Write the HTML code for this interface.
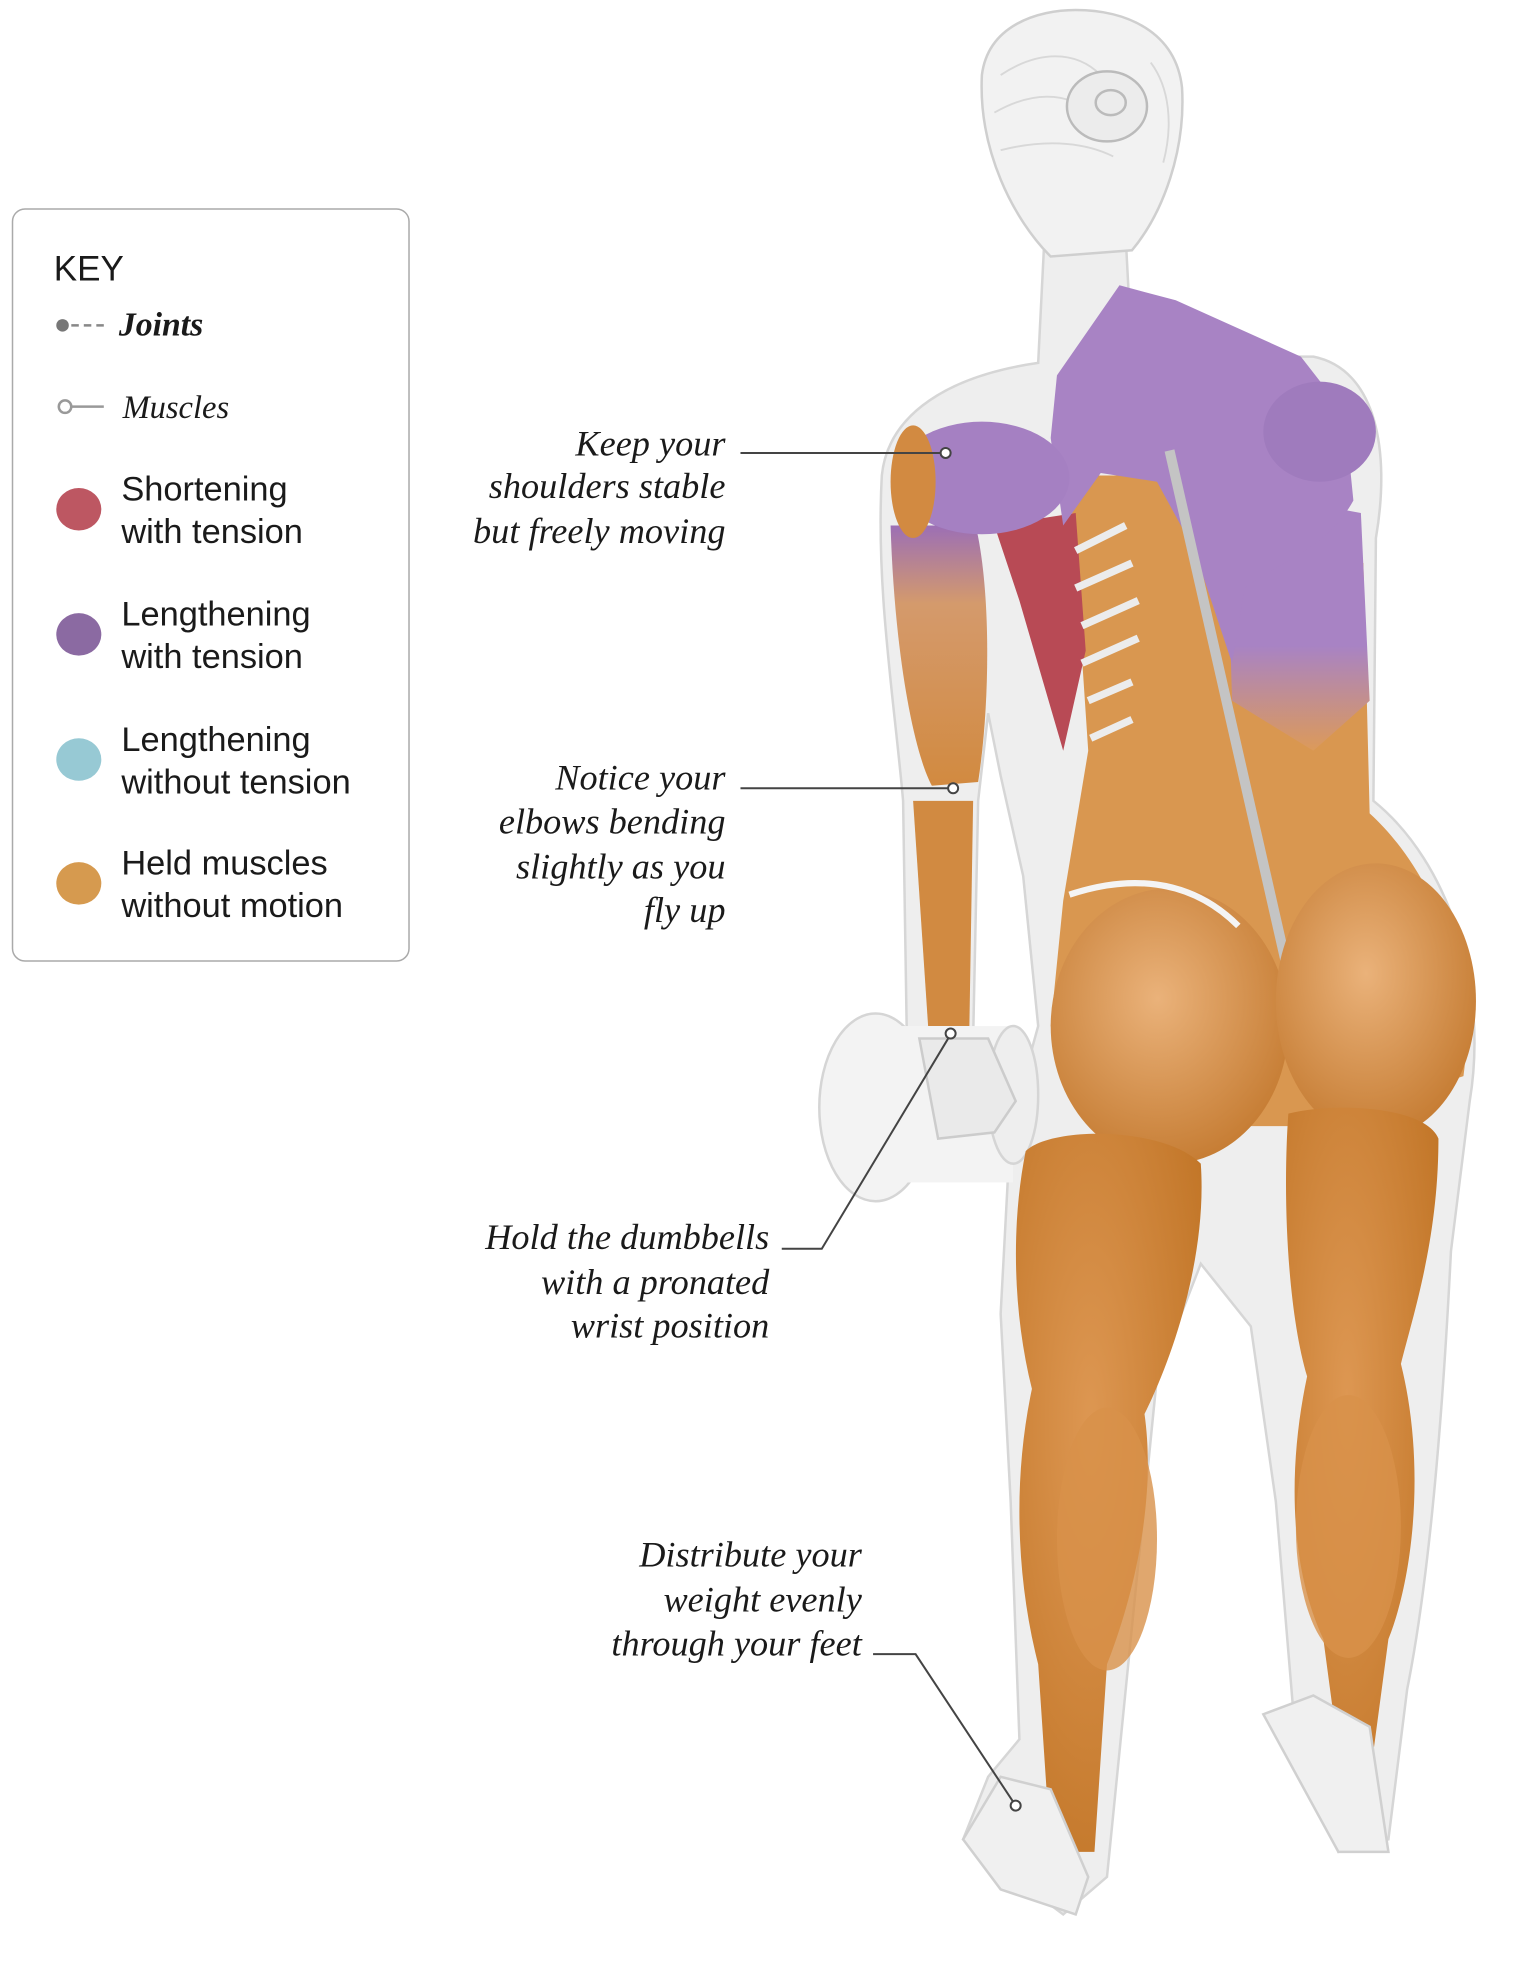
<!DOCTYPE html>
<html><head><meta charset="utf-8"><style>
html,body{margin:0;padding:0;background:#fff;}
svg{display:block;}
.s{font-family:"Liberation Sans",sans-serif;fill:#1a1a1a;}
.i{font-family:"Liberation Serif",serif;font-style:italic;fill:#1a1a1a;}
</style></head><body>
<svg width="1526" height="1962" viewBox="0 0 1220 1568" preserveAspectRatio="none" xmlns="http://www.w3.org/2000/svg">
<defs>
<linearGradient id="arm" x1="0" y1="0" x2="0" y2="1"><stop offset="0" stop-color="#9c6fb5"/><stop offset="0.3" stop-color="#d49a6c"/><stop offset="1" stop-color="#d28a40"/></linearGradient>
<linearGradient id="back" x1="0" y1="0" x2="0" y2="1"><stop offset="0" stop-color="#a883c4"/><stop offset="0.6" stop-color="#a883c4"/><stop offset="1" stop-color="#dc9a5a"/></linearGradient>
<radialGradient id="glu" cx="0.45" cy="0.4" r="0.65"><stop offset="0" stop-color="#eab27a"/><stop offset="1" stop-color="#c47a30"/></radialGradient>
<radialGradient id="leg" cx="0.4" cy="0.4" r="0.7"><stop offset="0" stop-color="#dd9752"/><stop offset="1" stop-color="#c27628"/></radialGradient>
</defs>
<!-- key -->
<rect x="10" y="167" width="317" height="601" rx="10" fill="#fff" stroke="#aaa" stroke-width="1.2"/>
<text x="43" y="224" class="s" font-size="28">KEY</text>
<circle cx="50" cy="260" r="5" fill="#777"/>
<line x1="57" y1="260" x2="84" y2="260" stroke="#888" stroke-width="2" stroke-dasharray="6,4"/>
<text x="95" y="268" class="i" font-size="27" font-weight="bold">Joints</text>
<circle cx="52" cy="325" r="5" fill="#fff" stroke="#999" stroke-width="2"/>
<line x1="57" y1="325" x2="83" y2="325" stroke="#999" stroke-width="2"/>
<text x="98" y="334" class="i" font-size="26">Muscles</text>
<ellipse cx="63" cy="407" rx="18" ry="17" fill="#bd5762"/>
<ellipse cx="63" cy="507" rx="18" ry="17" fill="#8b6aa2"/>
<ellipse cx="63" cy="607" rx="18" ry="17" fill="#97c9d4"/>
<ellipse cx="63" cy="706" rx="18" ry="17" fill="#d69a4f"/>
<g class="s" font-size="27.5">
<text x="97" y="400">Shortening</text><text x="97" y="434">with tension</text>
<text x="97" y="500">Lengthening</text><text x="97" y="534">with tension</text>
<text x="97" y="600">Lengthening</text><text x="97" y="634">without tension</text>
<text x="97" y="699">Held muscles</text><text x="97" y="733">without motion</text>
</g>
<!-- figure silhouette -->
<path d="M835,190 L900,190 L905,285 L1050,285 C1100,295 1112,360 1100,430 L1098,640 C1160,690 1190,790 1175,880 L1160,1000 C1155,1100 1145,1250 1125,1350 L1110,1470 L1070,1480 L1035,1380 L1020,1200 L1000,1060 L960,1010 L925,1100 L905,1300 L885,1500 L850,1530 L770,1470 L790,1420 L815,1390 L808,1200 L800,1050 L808,900 L830,820 L818,700 L800,620 L790,570 L782,640 L778,830 L725,830 L722,640 C715,560 700,470 705,380 C710,330 760,300 830,290 Z" fill="#eeeeee" stroke="#d6d6d6" stroke-width="2"/>
<path d="M785,60 C790,20 830,8 860,8 C900,8 940,25 945,70 C948,120 930,170 905,200 L840,205 C810,175 782,120 785,60 Z" fill="#f2f2f2" stroke="#cfcfcf" stroke-width="2"/>
<g stroke="#d8d8d8" stroke-width="1.5" fill="none"><path d="M800,60 C830,40 860,40 880,60"/><path d="M795,90 C830,70 860,75 875,95"/><path d="M800,120 C840,110 870,115 890,125"/><path d="M920,50 C935,70 938,100 930,130"/></g>
<ellipse cx="885" cy="85" rx="32" ry="28" fill="#ececec" stroke="#bbb" stroke-width="2"/>
<ellipse cx="888" cy="82" rx="12" ry="10" fill="none" stroke="#bbb" stroke-width="2"/>
<!-- dumbbell -->
<ellipse cx="700" cy="885" rx="45" ry="75" fill="#f3f3f3" stroke="#d5d5d5" stroke-width="2"/>
<rect x="700" y="820" width="110" height="125" fill="#f3f3f3"/>
<ellipse cx="810" cy="875" rx="20" ry="55" fill="#eee" stroke="#d5d5d5" stroke-width="2"/>
<path d="M735,830 L790,830 L812,880 L795,905 L750,910 Z" fill="#eaeaea" stroke="#ccc" stroke-width="2"/>
<!-- arm muscles -->
<path d="M712,420 C715,520 730,600 745,628 L782,625 C792,560 792,470 780,420 Z" fill="url(#arm)"/>
<path d="M730,640 L742,820 L775,820 L778,640 Z" fill="#d18a41"/>
<!-- back -->
<path d="M855,380 L1000,380 L1090,450 L1095,650 C1150,700 1180,790 1170,860 L1050,900 L880,900 L840,820 L850,720 L870,600 L860,450 Z" fill="#d99750"/>
<path d="M980,390 L1088,410 L1095,560 L1050,600 L985,560 Z" fill="url(#back)"/>
<path d="M795,420 L860,410 L868,520 L850,600 L815,480 Z" fill="#b84a55"/>
<g stroke="#ececec" stroke-width="6" fill="none"><path d="M860,440 L900,420"/><path d="M860,470 L905,450"/><path d="M865,500 L910,480"/><path d="M865,530 L910,510"/><path d="M870,560 L905,545"/><path d="M872,590 L905,575"/></g>
<path d="M845,300 L895,228 L940,240 L1040,285 L1075,330 L1082,400 C1060,440 1020,450 995,470 L985,530 L955,440 L925,385 L880,378 L850,420 L840,350 Z" fill="#a883c4"/>
<ellipse cx="785" cy="382" rx="70" ry="45" fill="#a580c2"/>
<ellipse cx="1055" cy="345" rx="45" ry="40" fill="#9f7bbd"/>
<ellipse cx="730" cy="385" rx="18" ry="45" fill="#d28a41"/>
<path d="M935,360 L1035,800" stroke="#c4c4c4" stroke-width="8"/>
<!-- glutes -->
<ellipse cx="935" cy="820" rx="95" ry="110" fill="url(#glu)"/>
<ellipse cx="1100" cy="800" rx="80" ry="110" fill="url(#glu)"/>
<path d="M855,715 C900,700 950,700 990,740" stroke="#f4f4f4" stroke-width="5" fill="none"/>
<!-- legs -->
<path d="M820,920 C840,900 930,900 960,930 C965,1000 940,1080 915,1130 C925,1200 905,1280 885,1330 L875,1480 L840,1480 L830,1330 C812,1260 810,1180 825,1110 C810,1050 808,980 820,920 Z" fill="url(#leg)"/>
<path d="M1030,890 C1070,880 1140,885 1150,910 C1150,990 1130,1050 1120,1090 C1140,1170 1130,1260 1110,1310 L1090,1460 L1078,1460 L1058,1310 C1030,1250 1030,1170 1045,1100 C1030,1050 1025,960 1030,890 Z" fill="url(#leg)"/>
<ellipse cx="885" cy="1230" rx="40" ry="105" fill="#d8914a" opacity="0.8"/>
<ellipse cx="1078" cy="1220" rx="42" ry="105" fill="#d8914a" opacity="0.8"/>
<path d="M770,1470 L800,1420 L840,1430 L870,1500 L860,1530 L800,1510 Z" fill="#f0f0f0" stroke="#d0d0d0" stroke-width="2"/>
<path d="M1010,1370 L1050,1355 L1095,1380 L1110,1480 L1070,1480 Z" fill="#f0f0f0" stroke="#d0d0d0" stroke-width="2"/>
<!-- callouts -->
<g class="i" font-size="29" text-anchor="end">
<text x="580" y="364">Keep your</text><text x="580" y="398">shoulders stable</text><text x="580" y="434">but freely moving</text>
<text x="580" y="631">Notice your</text><text x="580" y="666">elbows bending</text><text x="580" y="702">slightly as you</text><text x="580" y="737">fly up</text>
<text x="615" y="998">Hold the dumbbells</text><text x="615" y="1034">with a pronated</text><text x="615" y="1069">wrist position</text>
<text x="689" y="1252">Distribute your</text><text x="689" y="1288">weight evenly</text><text x="689" y="1323">through your feet</text>
</g>
<g stroke="#444" stroke-width="1.6" fill="none">
<path d="M592,362 L752,362"/><circle cx="756" cy="362" r="4" fill="#fff"/>
<path d="M592,630 L758,630"/><circle cx="762" cy="630" r="4" fill="#fff"/>
<path d="M625,998 L657,998 L758,830"/><circle cx="760" cy="826" r="4" fill="#fff"/>
<path d="M698,1322 L732,1322 L810,1440"/><circle cx="812" cy="1443" r="4" fill="#fff"/>
</g>
</svg>
</body></html>
